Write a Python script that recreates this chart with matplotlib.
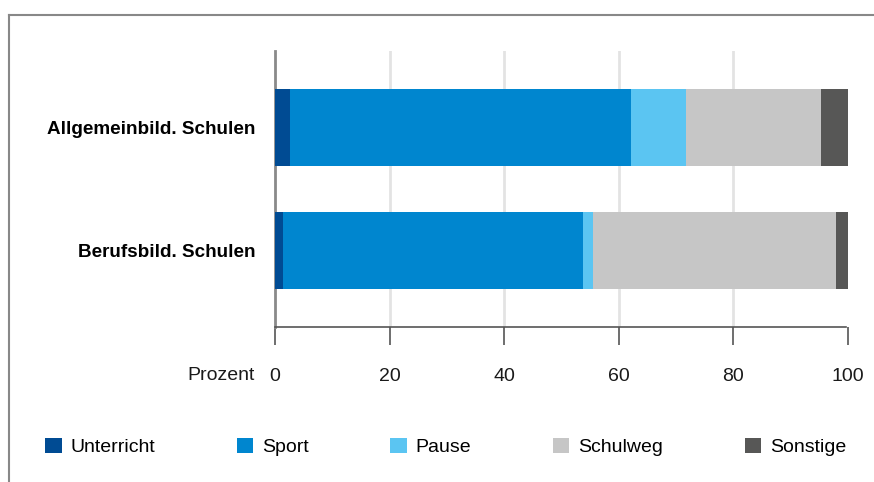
import matplotlib
matplotlib.use("Agg")
import matplotlib.pyplot as plt
from matplotlib.lines import Line2D
import numpy as np

plt.rcParams['font.family'] = ['Liberation Sans', 'DejaVu Sans']

categories = ["Allgemeinbild. Schulen", "Berufsbild. Schulen"]
series_names = ["Unterricht", "Sport", "Pause", "Schulweg", "Sonstige"]
unterricht = [2.6, 1.4]
sport = [59.5, 52.4]
pause = [9.6, 1.7]
schulweg = [23.6, 42.4]
sonstige = [4.7, 2.1]
series_values = [unterricht, sport, pause, schulweg, sonstige]
colors = ["#004b93", "#0086cf", "#5bc5f2", "#c6c6c6", "#575756"]
xticks = [0, 20, 40, 60, 80, 100]
grid_positions = [20, 40, 60, 80]

fig = plt.figure(figsize=(8.74, 4.82), dpi=100)
ax = fig.add_axes([275/874, 1-326.5/482, (848-275)/874, (326.5-51)/482])

y = np.arange(len(categories))
left = np.zeros(len(categories))
handles = []
for name, vals, c in zip(series_names, series_values, colors):
    b = ax.barh(y, vals, left=left, height=0.626, color=c, label=name, zorder=3)
    left += np.array(vals)
    handles.append(b)

ax.set_xlim(0, 100)
ax.set_ylim(1.62, -0.62)
ax.set_xticks(xticks)
ax.set_xticklabels([str(t) for t in xticks], fontsize=14)
ax.set_yticks(y)
ax.set_yticklabels(categories, fontsize=13.6, fontweight='bold')
ax.tick_params(axis='y', length=0, pad=14)
ax.tick_params(axis='x', length=13, width=1.2, color='#555555', pad=17, labelcolor='#1a1a1a')
for gx in grid_positions:
    ax.axvline(gx, color='#e3e3e3', linewidth=2, zorder=0)
for s in ['top', 'right']:
    ax.spines[s].set_visible(False)
ax.spines['left'].set_color('#8a8a8a')
ax.spines['left'].set_linewidth(2)
ax.spines['bottom'].set_color('#555555')
ax.spines['bottom'].set_linewidth(1.2)
ax.spines['bottom'].set_bounds(0, 99.6)

ax.text(-0.035, -0.178, "Prozent", transform=ax.transAxes, ha='right', va='center',
        fontsize=14, color='#1a1a1a')

leg = fig.legend(handles=handles, labels=series_names, loc='center left',
                 bbox_to_anchor=(45/874, 1-447/482), ncol=5, frameon=False,
                 fontsize=14, handlelength=0.85, handleheight=0.85,
                 handletextpad=0.45, columnspacing=4.2, borderaxespad=0, borderpad=0)

# outer frame lines (top and left)
fig.add_artist(Line2D([8.5/874, 1], [1-14.5/482, 1-14.5/482], transform=fig.transFigure,
                      color='#888888', linewidth=1.5))
fig.add_artist(Line2D([8.5/874, 8.5/874], [0, 1-14.5/482], transform=fig.transFigure,
                      color='#888888', linewidth=1.5))

fig.savefig("out.png", dpi=100)
